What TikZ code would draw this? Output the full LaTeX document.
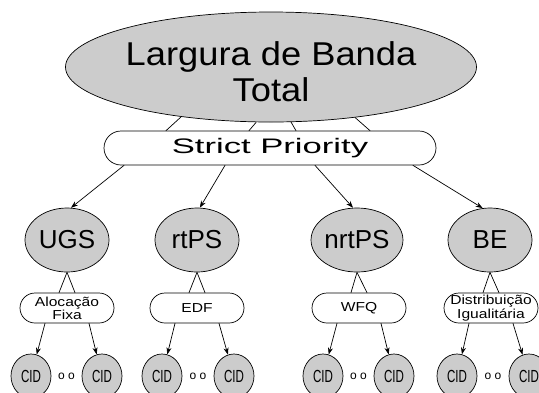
\documentclass[tikz,border=0pt]{standalone}
\usepackage{fontspec}
\setmainfont{Liberation Sans}
\newfontfamily\bigfont[FakeStretch=1.1]{Liberation Sans}
\newfontfamily\widefont[FakeStretch=1.65]{Liberation Sans}
\newfontfamily\schedfont[FakeStretch=1.2]{Liberation Sans}
\newfontfamily\cidfont[FakeStretch=0.66]{Liberation Sans}
\usetikzlibrary{shapes.geometric,calc,arrows.meta}

\begin{document}
\begin{tikzpicture}[x=1pt,y=-1pt,line cap=round,line join=round,
  >={Stealth[length=7pt,width=5pt]},
  lig/.style={line width=0.7pt},
  topo/.style={ellipse,draw,lig,fill=gray!40,inner sep=0pt,minimum width=328pt,minimum height=110pt,align=center,font=\bigfont\fontsize{33}{36}\selectfont},
  prio/.style={rectangle,rounded corners=17pt,draw,lig,fill=white,inner sep=0pt,minimum width=332pt,minimum height=34pt,font=\widefont\fontsize{21}{24}\selectfont},
  classe/.style={ellipse,draw,lig,fill=gray!40,inner sep=0pt,minimum width=84pt,minimum height=64pt,font=\fontsize{26}{28}\selectfont},
  escal/.style={rectangle,rounded corners=15pt,draw,lig,fill=white,inner sep=0pt,minimum width=94pt,minimum height=30pt,align=center,font=\schedfont\fontsize{13}{12}\selectfont},
  cid/.style={ellipse,draw,lig,fill=gray!40,inner sep=0pt,minimum width=40pt,minimum height=44pt,font=\cidfont\fontsize{17.5}{17}\selectfont},
  pontos/.style={inner sep=0pt,font=\fontsize{12}{12}\selectfont}]

\path[use as bounding box,fill=white] (0,0) rectangle (539,392);

% -----------------------
% Topo e escalonador
% -----------------------
\node[topo] (total) at (271,67) {Largura de Banda\rule{0pt}{34pt}\\Total};
\node[prio] (sp) at (270,148) {Strict Priority};

\draw[lig] (total.209) -- ([xshift=-104pt]sp.north);
\draw[lig] (total.255) -- ([xshift=-21pt]sp.north);
\draw[lig] (total.290) -- ([xshift=26pt]sp.north);
\draw[lig] (total.329) -- ([xshift=100pt]sp.north);

% -----------------------
% Classes de servico
% -----------------------
\node[classe] (ugs)   at (67,240)  {UGS};
\node[classe] (rtps)  at (197,240) {rtPS};
\node[classe] (nrtps) at (357,240) {nrtPS};
\node[classe] (be)    at (490,240) {BE};

\draw[lig,->] ([xshift=-146pt]sp.south) -- (ugs.83);
\draw[lig,->] ([xshift=-45pt]sp.south)  -- (rtps.85);
\draw[lig,->] ([xshift=45pt]sp.south)   -- (nrtps.97);
\draw[lig,->] ([xshift=143pt]sp.south)  -- (be.103);

% Escalonadores por classe
\node[escal] (ugsesc)   at (67,308)  {Alocação\\Fixa};
\node[escal] (rtpsesc)  at (197,308) {EDF};
\node[escal] (nrtpsesc) at (359,308) {WFQ};
\node[escal] (beesc)    at (491,308) {Distribuição\\Igualitária};

\draw[lig] ([xshift=-8pt]ugsesc.north) -- (ugs.south) -- ([xshift=8pt]ugsesc.north);
\draw[lig] ([xshift=-8pt]rtpsesc.north) -- (rtps.south) -- ([xshift=8pt]rtpsesc.north);
\draw[lig] ([xshift=-8pt]nrtpsesc.north) -- (nrtps.south) -- ([xshift=8pt]nrtpsesc.north);
\draw[lig] ([xshift=-8pt]beesc.north) -- (be.south) -- ([xshift=8pt]beesc.north);

% -----------------------
% Conexoes (CID)
% -----------------------
\node[cid] (ugscid1)   at (31,376)  {CID};
\node[cid] (ugscid2)   at (102,376) {CID};
\node[cid] (rtpscid1)  at (162,376) {CID};
\node[cid] (rtpscid2)  at (234,376) {CID};
\node[cid] (nrtpscid1) at (323,376) {CID};
\node[cid] (nrtpscid2) at (394,376) {CID};
\node[cid] (becid1)    at (457,376) {CID};
\node[cid] (becid2)    at (529,376) {CID};

\node[pontos] (ugspt)   at ($(ugscid1)!0.5!(ugscid2)$)     {o o};
\node[pontos] (rtpspt)  at ($(rtpscid1)!0.5!(rtpscid2)$)   {o o};
\node[pontos] (nrtpspt) at ($(nrtpscid1)!0.5!(nrtpscid2)$) {o o};
\node[pontos] (bept)    at ($(becid1)!0.5!(becid2)$)       {o o};

\draw[lig,->] ([xshift=-22pt]ugsesc.south) -- (ugscid1);
\draw[lig,->] ([xshift=22pt]ugsesc.south)  -- (ugscid2);
\draw[lig,->] ([xshift=-22pt]rtpsesc.south) -- (rtpscid1);
\draw[lig,->] ([xshift=22pt]rtpsesc.south)  -- (rtpscid2);
\draw[lig,->] ([xshift=-22pt]nrtpsesc.south) -- (nrtpscid1);
\draw[lig,->] ([xshift=22pt]nrtpsesc.south)  -- (nrtpscid2);
\draw[lig,->] ([xshift=-22pt]beesc.south) -- (becid1);
\draw[lig,->] ([xshift=22pt]beesc.south)  -- (becid2);

\end{tikzpicture}
\end{document}
